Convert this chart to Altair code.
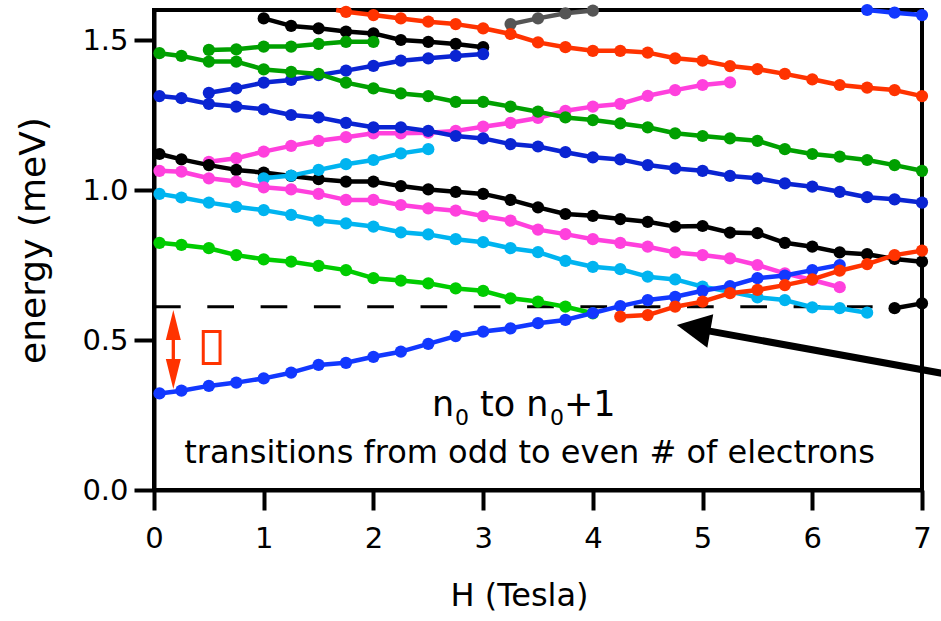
import altair as alt
import pandas as pd

FONT = "DejaVu Sans"

# ---------------- data (H in Tesla, E in meV) ----------------
blue_low_h = [0.05, 0.25, 0.5, 0.75, 1.0, 1.25, 1.5, 1.75, 2.0, 2.25, 2.5, 2.75, 3.0, 3.25, 3.5, 3.75, 4.0, 4.25, 4.5, 4.75, 5.0, 5.25, 5.5, 5.75, 6.0, 6.25]
blue_low_e = [0.322, 0.331, 0.347, 0.358, 0.372, 0.391, 0.417, 0.424, 0.444, 0.461, 0.487, 0.513, 0.528, 0.539, 0.556, 0.567, 0.590, 0.613, 0.633, 0.644, 0.664, 0.680, 0.706, 0.715, 0.733, 0.750]

green_low_h = [0.05, 0.25, 0.5, 0.75, 1.0, 1.25, 1.5, 1.75, 2.0, 2.25, 2.5, 2.75, 3.0, 3.25, 3.5, 3.75, 4.0]
green_low_e = [0.824, 0.817, 0.806, 0.783, 0.769, 0.761, 0.747, 0.733, 0.706, 0.698, 0.689, 0.672, 0.664, 0.639, 0.628, 0.611, 0.589]

cyan_low_h = [0.05, 0.25, 0.5, 0.75, 1.0, 1.25, 1.5, 1.75, 2.0, 2.25, 2.5, 2.75, 3.0, 3.25, 3.5, 3.75, 4.0, 4.25, 4.5, 4.75, 5.0, 5.25, 5.5, 5.75, 6.0, 6.25, 6.5]
cyan_low_e = [0.987, 0.975, 0.958, 0.944, 0.933, 0.917, 0.898, 0.889, 0.878, 0.859, 0.852, 0.836, 0.826, 0.806, 0.793, 0.764, 0.744, 0.736, 0.711, 0.702, 0.678, 0.661, 0.642, 0.633, 0.609, 0.606, 0.591]

magenta_low_h = [0.05, 0.25, 0.5, 0.75, 1.0, 1.25, 1.5, 1.75, 2.0, 2.25, 2.5, 2.75, 3.0, 3.25, 3.5, 3.75, 4.0, 4.25, 4.5, 4.75, 5.0, 5.25, 5.5, 5.75, 6.0, 6.25]
magenta_low_e = [1.064, 1.061, 1.039, 1.028, 1.009, 1.002, 0.987, 0.967, 0.967, 0.950, 0.939, 0.931, 0.913, 0.898, 0.868, 0.853, 0.836, 0.824, 0.811, 0.792, 0.783, 0.772, 0.750, 0.722, 0.700, 0.676]

black_mid_h = [0.05, 0.25, 0.5, 0.75, 1.0, 1.25, 1.5, 1.75, 2.0, 2.25, 2.5, 2.75, 3.0, 3.25, 3.5, 3.75, 4.0, 4.25, 4.5, 4.75, 5.0, 5.25, 5.5, 5.75, 6.0, 6.25, 6.5, 6.75, 7.0]
black_mid_e = [1.120, 1.102, 1.083, 1.067, 1.058, 1.047, 1.036, 1.028, 1.028, 1.013, 1.002, 0.994, 0.987, 0.967, 0.942, 0.920, 0.914, 0.903, 0.894, 0.878, 0.880, 0.858, 0.856, 0.824, 0.811, 0.792, 0.786, 0.770, 0.761]

magenta_up_h = [0.5, 0.75, 1.0, 1.25, 1.5, 1.75, 2.0, 2.25, 2.5, 2.75, 3.0, 3.25, 3.5, 3.75, 4.0, 4.25, 4.5, 4.75, 5.0, 5.25]
magenta_up_e = [1.094, 1.106, 1.128, 1.147, 1.164, 1.176, 1.189, 1.189, 1.191, 1.197, 1.211, 1.224, 1.240, 1.264, 1.278, 1.287, 1.314, 1.333, 1.350, 1.359]

cyan_up_h = [1.0, 1.25, 1.5, 1.75, 2.0, 2.25, 2.5]
cyan_up_e = [1.039, 1.048, 1.067, 1.086, 1.100, 1.122, 1.136]

blue_mid_h = [0.05, 0.25, 0.5, 0.75, 1.0, 1.25, 1.5, 1.75, 2.0, 2.25, 2.5, 2.75, 3.0, 3.25, 3.5, 3.75, 4.0, 4.25, 4.5, 4.75, 5.0, 5.25, 5.5, 5.75, 6.0, 6.25, 6.5, 6.75, 7.0]
blue_mid_e = [1.313, 1.306, 1.287, 1.278, 1.269, 1.250, 1.242, 1.224, 1.209, 1.209, 1.197, 1.180, 1.172, 1.153, 1.145, 1.126, 1.109, 1.102, 1.083, 1.072, 1.064, 1.047, 1.039, 1.022, 1.011, 0.994, 0.976, 0.969, 0.958]

blue_up_h = [0.5, 0.75, 1.0, 1.25, 1.5, 1.75, 2.0, 2.25, 2.5, 2.75, 3.0]
blue_up_e = [1.324, 1.339, 1.358, 1.367, 1.383, 1.398, 1.414, 1.431, 1.439, 1.447, 1.453]

green_mid_h = [0.05, 0.25, 0.5, 0.75, 1.0, 1.25, 1.5, 1.75, 2.0, 2.25, 2.5, 2.75, 3.0, 3.25, 3.5, 3.75, 4.0, 4.25, 4.5, 4.75, 5.0, 5.25, 5.5, 5.75, 6.0, 6.25, 6.5, 6.75, 7.0]
green_mid_e = [1.456, 1.447, 1.428, 1.428, 1.402, 1.394, 1.387, 1.358, 1.339, 1.322, 1.313, 1.294, 1.294, 1.278, 1.261, 1.242, 1.233, 1.222, 1.209, 1.189, 1.180, 1.172, 1.164, 1.136, 1.120, 1.111, 1.100, 1.083, 1.064]

green_up_h = [0.5, 0.75, 1.0, 1.25, 1.5, 1.75, 2.0]
green_up_e = [1.467, 1.469, 1.478, 1.478, 1.487, 1.494, 1.494]

black_top_h = [1.0, 1.25, 1.5, 1.75, 2.0, 2.25, 2.5, 2.75, 3.0]
black_top_e = [1.572, 1.547, 1.539, 1.528, 1.522, 1.500, 1.494, 1.487, 1.476]

red_top_h = [1.75, 2.0, 2.25, 2.5, 2.75, 3.0, 3.25, 3.5, 3.75, 4.0, 4.25, 4.5, 4.75, 5.0, 5.25, 5.5, 5.75, 6.0, 6.25, 6.5, 6.75, 7.0]
red_top_e = [1.594, 1.583, 1.572, 1.561, 1.553, 1.539, 1.520, 1.492, 1.476, 1.464, 1.464, 1.458, 1.439, 1.431, 1.413, 1.403, 1.387, 1.369, 1.350, 1.341, 1.333, 1.313]
red_top_entry_h = [1.66]   # where the red line leaves the top of the frame
red_top_entry_e = [1.60]

gray_h = [3.25, 3.5, 3.75, 4.0]
gray_e = [1.553, 1.572, 1.589, 1.598]

blue_tr_h = [6.5, 6.75, 7.0]
blue_tr_e = [1.600, 1.591, 1.583]

red_low_h = [4.25, 4.5, 4.75, 5.0, 5.25, 5.5, 5.75, 6.0, 6.25, 6.5, 6.75, 7.0]
red_low_e = [0.578, 0.583, 0.611, 0.628, 0.656, 0.667, 0.683, 0.702, 0.731, 0.753, 0.783, 0.798]

black_low_h = [6.75, 7.0]
black_low_e = [0.606, 0.622]

# annotations
dash_level = [0.611]
dash_span = [0.0, 6.55]
gap_arrow_h = [0.176]
gap_arrow_tips = [0.600, 0.337]
gap_arrow_shaft = [0.51, 0.43]
delta_box_h = [0.449, 0.602]
delta_box_e = [0.422, 0.528]
pointer_tip = [4.765, 0.550]
pointer_shaft_from = [5.015, 0.533]
pointer_shaft_to = [7.30, 0.381]
# "n0 to n0+1" written as pieces: main-size text and subscript zeros
title_pieces = ["n", "0", "to n", "0", "+1"]
title_is_sub = [False, True, False, True, False]
title_dx = [0, 23, 48, 118, 132]
title_pos = [2.534, 0.247]
sub_text = ["transitions from odd to even # of electrons"]
sub_pos = [3.423, 0.090]

x_ticks = [0, 1, 2, 3, 4, 5, 6, 7]
y_ticks = [0.0, 0.5, 1.0, 1.5]

RED = "#ff3300"
BLUE_B = "#1238ff"
BLUE_D = "#0a24d2"
GREEN_D = "#00a000"
GREEN_B = "#00cc00"
CYAN = "#00b4f0"
MAGENTA = "#ff40dd"
BLACK = "#000000"
GRAY = "#555555"

SERIES = [
    ("magenta_up", MAGENTA, magenta_up_h, magenta_up_e),
    ("black_top", BLACK, black_top_h, black_top_e),
    ("gray", GRAY, gray_h, gray_e),
    ("blue_up", BLUE_D, blue_up_h, blue_up_e),
    ("green_up", GREEN_D, green_up_h, green_up_e),
    ("blue_mid", BLUE_D, blue_mid_h, blue_mid_e),
    ("green_mid", GREEN_D, green_mid_h, green_mid_e),
    ("red_top", RED, red_top_h, red_top_e),
    ("blue_tr", BLUE_B, blue_tr_h, blue_tr_e),
    ("black_mid", BLACK, black_mid_h, black_mid_e),
    ("cyan_up", CYAN, cyan_up_h, cyan_up_e),
    ("magenta_low", MAGENTA, magenta_low_h, magenta_low_e),
    ("cyan_low", CYAN, cyan_low_h, cyan_low_e),
    ("green_low", GREEN_B, green_low_h, green_low_e),
    ("blue_low", BLUE_B, blue_low_h, blue_low_e),
    ("red_low", RED, red_low_h, red_low_e),
    ("black_low", BLACK, black_low_h, black_low_e),
]

x_axis = alt.Axis(
    values=x_ticks, format="d", title="H (Tesla)", grid=False,
    tickSize=20, tickWidth=4, tickColor="black",
    domainColor="black", domainWidth=4,
    labelFont=FONT, labelFontSize=29, labelColor="black", labelPadding=14,
    labelFlush=False, labelOverlap=False,
    titleFont=FONT, titleFontSize=32, titleFontWeight="normal", titleColor="black",
    titleX=365, titleY=115, titleBaseline="alphabetic", titleAlign="center",
)
y_axis = alt.Axis(
    values=y_ticks, format=".1f", title="energy (meV)", grid=False,
    tickSize=20, tickWidth=4, tickColor="black",
    domainColor="black", domainWidth=4,
    labelFont=FONT, labelFontSize=29, labelColor="black", labelPadding=6,
    labelFlush=False, labelOverlap=False,
    titleFont=FONT, titleFontSize=36, titleFontWeight="normal", titleColor="black",
    titleAngle=270, titleX=-110, titleY=230, titleBaseline="alphabetic", titleAlign="center",
)
xs = alt.Scale(domain=[0, 7], nice=False, zero=False)
ys = alt.Scale(domain=[0, 1.6], nice=False, zero=False)


def X(f="H"):
    return alt.X(f"{f}:Q", scale=xs, axis=x_axis)


def Y(f="E"):
    return alt.Y(f"{f}:Q", scale=ys, axis=y_axis)


layers = []

# dashed reference line
dash_df = pd.DataFrame({"H": [dash_span[0]], "H2": [dash_span[1]], "E": dash_level})
layers.append(
    alt.Chart(dash_df).mark_rule(color="black", strokeWidth=3, strokeDash=[26.7, 26.6])
    .encode(x=X(), x2="H2:Q", y=Y())
)

for name, color, hs, es in SERIES:
    pts = pd.DataFrame({"H": hs, "E": es})
    if name == "red_top":
        line_df = pd.DataFrame({"H": red_top_entry_h + hs, "E": red_top_entry_e + es})
    else:
        line_df = pts
    layers.append(
        alt.Chart(line_df).mark_line(color=color, strokeWidth=4.5, strokeJoin="round")
        .encode(x=X(), y=Y(), order="H:Q")
    )
    layers.append(
        alt.Chart(pts).mark_circle(color=color, size=150, opacity=1)
        .encode(x=X(), y=Y())
    )

# red double arrow (gap)
shaft_df = pd.DataFrame({"H": gap_arrow_h, "E": [gap_arrow_shaft[0]], "E2": [gap_arrow_shaft[1]]})
layers.append(
    alt.Chart(shaft_df).mark_rule(color=RED, strokeWidth=3.3).encode(x=X(), y=Y(), y2="E2:Q")
)
head_df = pd.DataFrame({"H": gap_arrow_h * 2, "E": gap_arrow_tips, "ang": [0, 180]})
layers.append(
    alt.Chart(head_df).mark_point(shape="M0,0 L-0.5,2 L0.5,2 Z", filled=True, size=900,
                                  color=RED, opacity=1)
    .encode(x=X(), y=Y(), angle=alt.Angle("ang:Q", scale=None))
)

# red box (missing-glyph box)
box_df = pd.DataFrame({"H": [delta_box_h[0]], "H2": [delta_box_h[1]],
                       "E": [delta_box_e[0]], "E2": [delta_box_e[1]]})
layers.append(
    alt.Chart(box_df).mark_rect(fillOpacity=0, stroke=RED, strokeWidth=3)
    .encode(x=X(), x2="H2:Q", y=Y(), y2="E2:Q")
)

# black pointer arrow
ptr_df = pd.DataFrame({"H": [pointer_shaft_from[0]], "H2": [pointer_shaft_to[0]],
                       "E": [pointer_shaft_from[1]], "E2": [pointer_shaft_to[1]]})
layers.append(
    alt.Chart(ptr_df).mark_rule(color="black", strokeWidth=7)
    .encode(x=X(), x2="H2:Q", y=Y(), y2="E2:Q")
)
tip_df = pd.DataFrame({"H": [pointer_tip[0]], "E": [pointer_tip[1]]})
layers.append(
    alt.Chart(tip_df).mark_point(shape="M0,0 L2,-1 L2,1 Z", filled=True, size=1156,
                                 color="black", opacity=1, angle=10)
    .encode(x=X(), y=Y())
)

# texts: "n0 to n0+1" with subscript zeros
for piece, is_sub, dx in zip(title_pieces, title_is_sub, title_dx):
    tdf = pd.DataFrame({"H": [title_pos[0]], "E": [title_pos[1]], "t": [piece]})
    layers.append(
        alt.Chart(tdf).mark_text(font=FONT, fontSize=22 if is_sub else 35, color="black",
                                 align="left", baseline="alphabetic",
                                 dx=dx, dy=9 if is_sub else 0)
        .encode(x=X(), y=Y(), text="t:N")
    )

t2 = pd.DataFrame({"H": [sub_pos[0]], "E": [sub_pos[1]], "t": sub_text})
layers.append(
    alt.Chart(t2).mark_text(font=FONT, fontSize=32, color="black", align="center",
                            baseline="alphabetic")
    .encode(x=X(), y=Y(), text="t:N")
)

chart = (
    alt.layer(*layers)
    .properties(
        width=768, height=480,
        autosize=alt.AutoSizeParams(type="none"),
        padding={"left": 154, "top": 10, "right": 19, "bottom": 131},
        background="white",
    )
    .configure_view(stroke="black", strokeWidth=4)
)

chart.save("out.html", embed_options={"renderer": "svg", "actions": False})
